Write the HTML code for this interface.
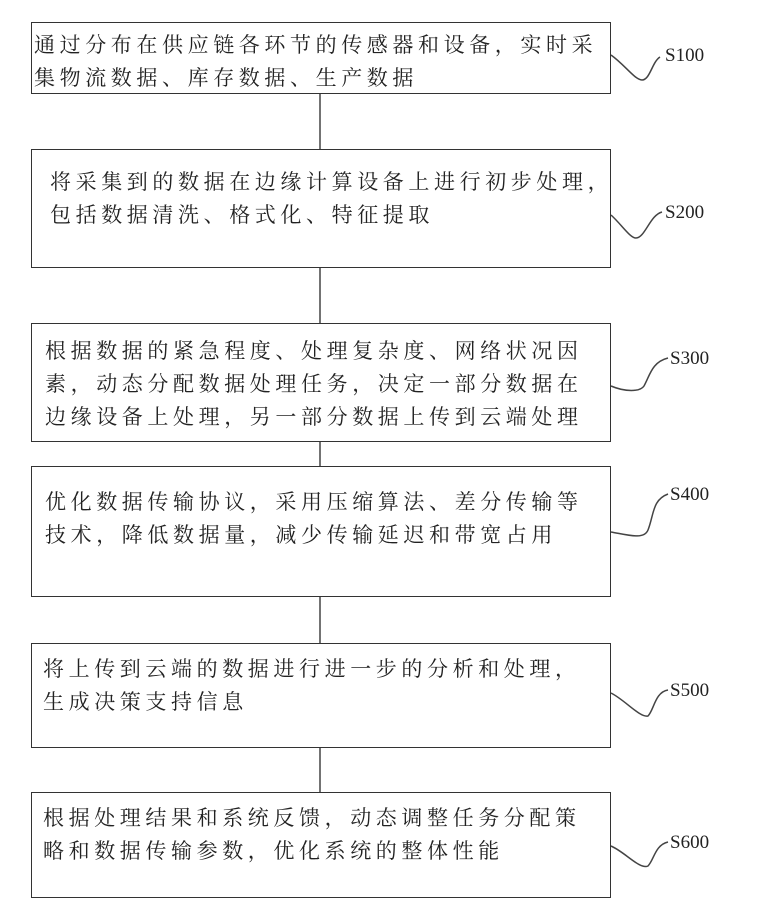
<!DOCTYPE html>
<html><head><meta charset="utf-8"><style>
body{margin:0;background:#fff;width:763px;height:913px;position:relative;overflow:hidden;font-family:"Liberation Serif","Noto Serif CJK SC","Noto Sans CJK SC",serif;color:#222}
.b{position:absolute;border:1.5px solid #333;box-sizing:border-box}
.t{position:absolute;font-size:21px;letter-spacing:4.6px;line-height:33px;white-space:nowrap}
.l{position:absolute;font-size:19px;letter-spacing:0}
svg{position:absolute;left:0;top:0}
</style></head><body>
<svg width="763" height="913">
<g stroke="#444" stroke-width="1.5" fill="none">
<line x1="320" y1="94" x2="320" y2="150"/>
<line x1="320" y1="268" x2="320" y2="323"/>
<line x1="320" y1="442" x2="320" y2="467"/>
<line x1="320" y1="597" x2="320" y2="643"/>
<line x1="320" y1="747" x2="320" y2="793"/>
<path d="M611 55 C625 65,635 80,642 80 C650 80,652 62,660 57"/>
<path d="M611 215 C622 225,630 238,636 238 C645 238,650 215,662 212"/>
<path d="M611 386 C625 392,640 392,644 386 C650 375,652 362,668 358"/>
<path d="M611 532 C628 535,644 540,648 530 C654 515,652 500,668 494"/>
<path d="M611 693 C625 700,640 718,648 716 C654 710,655 692,668 690"/>
<path d="M611 846 C625 852,640 870,648 866 C654 860,655 845,668 842"/>
</g></svg>
<div class="b" style="left:31px;top:22px;width:580px;height:72px"></div>
<div class="b" style="left:31px;top:149px;width:580px;height:119px"></div>
<div class="b" style="left:31px;top:323px;width:580px;height:119px"></div>
<div class="b" style="left:31px;top:466px;width:580px;height:131px"></div>
<div class="b" style="left:31px;top:643px;width:580px;height:105px"></div>
<div class="b" style="left:31px;top:792px;width:580px;height:106px"></div>
<div class="t" style="left:34px;top:29px">通过分布在供应链各环节的传感器和设备，实时采<br>集物流数据、库存数据、生产数据</div>
<div class="t" style="left:50px;top:166px">将采集到的数据在边缘计算设备上进行初步处理，<br>包括数据清洗、格式化、特征提取</div>
<div class="t" style="left:45px;top:335px">根据数据的紧急程度、处理复杂度、网络状况因<br>素，动态分配数据处理任务，决定一部分数据在<br>边缘设备上处理，另一部分数据上传到云端处理</div>
<div class="t" style="left:45px;top:486px">优化数据传输协议，采用压缩算法、差分传输等<br>技术，降低数据量，减少传输延迟和带宽占用</div>
<div class="t" style="left:43px;top:653px">将上传到云端的数据进行进一步的分析和处理，<br>生成决策支持信息</div>
<div class="t" style="left:43px;top:802px">根据处理结果和系统反馈，动态调整任务分配策<br>略和数据传输参数，优化系统的整体性能</div>
<div class="l" style="left:665px;top:45px">S100</div>
<div class="l" style="left:665px;top:202px">S200</div>
<div class="l" style="left:670px;top:348px">S300</div>
<div class="l" style="left:670px;top:484px">S400</div>
<div class="l" style="left:670px;top:680px">S500</div>
<div class="l" style="left:670px;top:832px">S600</div>
</body></html>
